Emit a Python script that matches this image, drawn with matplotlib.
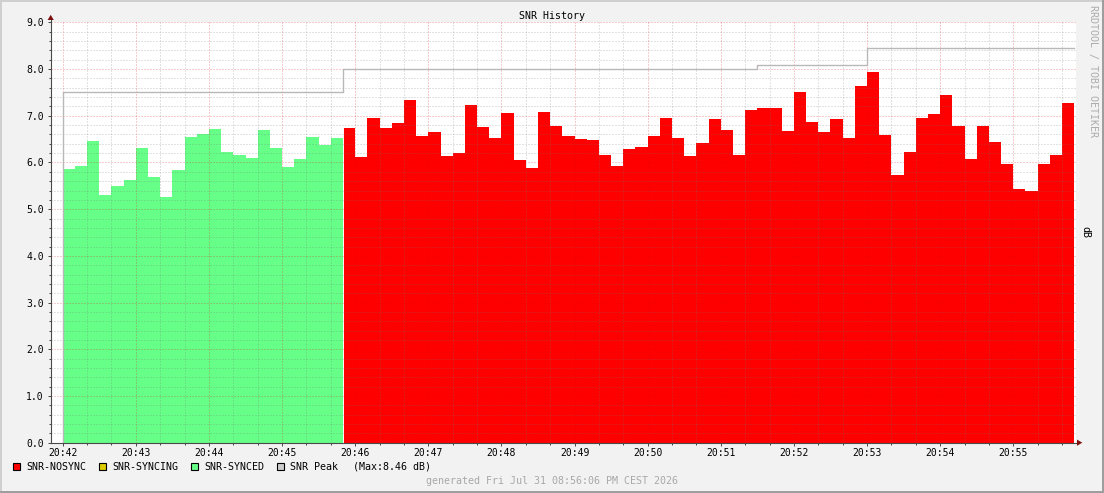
import matplotlib
matplotlib.use("Agg")
import matplotlib.pyplot as plt
from matplotlib.patches import Rectangle, Polygon
from matplotlib.lines import Line2D
from matplotlib.ticker import MultipleLocator, FixedLocator, FixedFormatter
import numpy as np

# ---------------- data ----------------
chart_title = "SNR History"
y_unit = "dB"
side_text = "RRDTOOL / TOBI OETIKER"
footer_text = "generated Fri Jul 31 08:56:06 PM CEST 2026"
sample_seconds = 10

snr_synced = [5.86, 5.93, 6.46, 5.30, 5.50, 5.63, 6.31, 5.69, 5.26, 5.84,
              6.55, 6.61, 6.72, 6.23, 6.16, 6.10, 6.70, 6.31, 5.90, 6.07,
              6.55, 6.37, 6.52]
snr_nosync = [6.74, 6.12, 6.95, 6.74, 6.85, 7.34, 6.57, 6.65, 6.14, 6.20,
              7.23, 6.76, 6.52, 7.06, 6.05, 5.88, 7.08, 6.78, 6.57, 6.50,
              6.48, 6.16, 5.93, 6.29, 6.33, 6.57, 6.95, 6.52, 6.14, 6.42,
              6.93, 6.70, 6.16, 7.12, 7.17, 7.17, 6.67, 7.51, 6.87, 6.65,
              6.93, 6.52, 7.64, 7.94, 6.59, 5.73, 6.22, 6.95, 7.04, 7.44,
              6.78, 6.07, 6.78, 6.44, 5.97, 5.43, 5.39, 5.97, 6.16, 7.27]

peak_start_s = [0, 230, 570, 660]
peak_db = [7.50, 8.00, 8.08, 8.46]

x_tick_labels = ["20:42", "20:43", "20:44", "20:45", "20:46", "20:47", "20:48",
                 "20:49", "20:50", "20:51", "20:52", "20:53", "20:54", "20:55"]
y_tick_labels = ["0.0", "1.0", "2.0", "3.0", "4.0", "5.0", "6.0", "7.0", "8.0", "9.0"]

legend_labels = ["SNR-NOSYNC", "SNR-SYNCING", "SNR-SYNCED", "SNR Peak"]
legend_colors = ["#FF0000", "#DDCC00", "#66FF88", "#CCCCCC"]
peak_max_text = "(Max:8.46 dB)"

# ---------------- figure ----------------
W, H, DPI = 1104, 493, 100
FONT = "DejaVu Sans Mono"
plt.rcParams["font.family"] = [FONT, "DejaVu Sans"]

fig = plt.figure(figsize=(W / DPI, H / DPI), dpi=DPI)
fig.patch.set_facecolor("#F2F2F2")


def fpt(x, y):
    return (x / W, 1 - y / H)


def frect(x0, y0, x1, y1, color, z=0):
    fig.add_artist(Rectangle((x0 / W, 1 - y1 / H), (x1 - x0) / W, (y1 - y0) / H,
                             transform=fig.transFigure, facecolor=color,
                             edgecolor="none", zorder=z))


# 3D-ish frame
frect(0, 0, W, 2, "#CFCFCF")
frect(0, 0, 2, H, "#CFCFCF")
frect(0, H - 2.5, W, H, "#9E9E9E")
frect(W - 2, 0, W, H, "#9E9E9E")

# plot area in pixels
L, R, T, B = 51, 1076, 22.4, 442.7
x0_px, px_per_s = 62.7, (1013.3 - 62.7) / 780.0
ax = fig.add_axes([L / W, 1 - B / H, (R - L) / W, (B - T) / H])
ax.set_facecolor("white")
ax.set_xlim((L - x0_px) / px_per_s, (R - x0_px) / px_per_s)
ax.set_ylim(0, 9)
for s in ax.spines.values():
    s.set_visible(False)

values = snr_synced + snr_nosync
n_sync = len(snr_synced)
t_all = np.arange(len(values)) * sample_seconds
t_end = len(values) * sample_seconds

ax.bar(t_all[:n_sync], snr_synced, width=sample_seconds, align="edge",
       color="#66FF88", linewidth=0, zorder=1)
ax.bar(t_all[n_sync:], snr_nosync, width=sample_seconds, align="edge",
       color="#FF0000", linewidth=0, zorder=1)
ax.axvline(t_all[n_sync], color="white", lw=0.7, zorder=1.2)

# peak line
px_ = [peak_start_s[0]] + peak_start_s + [t_end]
py_ = [0] + peak_db + [peak_db[-1]]
ax.step(px_, py_, where="post", color="#B8B8B8", lw=1.0, zorder=3)

# grid & ticks
ax.xaxis.set_major_locator(FixedLocator(np.arange(len(x_tick_labels)) * 60))
ax.xaxis.set_major_formatter(FixedFormatter(x_tick_labels))
ax.xaxis.set_minor_locator(MultipleLocator(20))
ax.yaxis.set_major_locator(FixedLocator(np.arange(len(y_tick_labels)) * 1.0))
ax.yaxis.set_major_formatter(FixedFormatter(y_tick_labels))
ax.yaxis.set_minor_locator(MultipleLocator(0.2))
ax.set_axisbelow(False)
ax.grid(which="minor", color="#777777", alpha=0.42, linestyle=(0, (1, 2)),
        lw=0.72, snap=True)
ax.grid(which="major", color="#E00000", alpha=0.40, linestyle=(0, (1, 2)),
        lw=0.72, snap=True)

axis_color = "#4A4A4A"
ax.tick_params(axis="both", which="both", direction="out", color=axis_color,
               width=0.72, labelsize=7.0, labelcolor="black")
ax.tick_params(axis="y", which="major", length=2.2, pad=3.0)
ax.tick_params(axis="y", which="minor", length=1.5)
ax.tick_params(axis="x", which="major", length=2.2, pad=1.7)
ax.tick_params(axis="x", which="minor", length=1.5)
for lab in ax.get_xticklabels() + ax.get_yticklabels():
    lab.set_fontfamily(FONT)

# axis lines + arrows (pixel geometry)
fig.add_artist(Line2D([50.7 / W, 50.7 / W], [1 - B / H, 1 - 19 / H],
                      transform=fig.transFigure, color=axis_color, lw=0.8, zorder=5))
fig.add_artist(Line2D([50.7 / W, 1078 / W], [1 - B / H, 1 - B / H],
                      transform=fig.transFigure, color=axis_color, lw=0.8, zorder=5))
arrow_c = "#7F1010"
fig.add_artist(Polygon([fpt(50.7, 14.8), fpt(47.6, 20), fpt(53.8, 20)], closed=True,
                       transform=fig.transFigure, facecolor=arrow_c, edgecolor="none", zorder=6))
fig.add_artist(Polygon([fpt(1082.3, B), fpt(1077, B - 3.1), fpt(1077, B + 3.1)], closed=True,
                       transform=fig.transFigure, facecolor=arrow_c, edgecolor="none", zorder=6))

# texts
fs = 7.2
fig.text(*fpt(552, 16), chart_title, ha="center", va="center", fontsize=fs,
         family=FONT, color="black")
fig.text(*fpt(1093, 5), side_text, ha="center", va="top", rotation=270,
         fontsize=fs, family=FONT, color="#ABABAB")
fig.text(*fpt(1085.5, 232), y_unit, ha="center", va="center", rotation=270,
         fontsize=fs, family=FONT, color="black")
fig.text(*fpt(552, 481), footer_text, ha="center", va="center", fontsize=fs,
         family=FONT, color="#A8A8A8")

# legend
sq_x = [13, 99, 191, 277]
tx_x = [26, 112, 204.5, 290]
ly = 466.5
for sx, tx, lab, col in zip(sq_x, tx_x, legend_labels, legend_colors):
    fig.add_artist(Rectangle((sx / W, 1 - (ly + 3.8) / H), 7.2 / W, 7.6 / H,
                             transform=fig.transFigure, facecolor=col,
                             edgecolor="black", lw=0.8, zorder=5))
    fig.text(*fpt(tx, ly), lab, ha="left", va="center", fontsize=fs,
             family=FONT, color="black")
fig.text(*fpt(352.7, ly), peak_max_text, ha="left", va="center", fontsize=fs,
         family=FONT, color="black")

fig.savefig("out.png", dpi=DPI, facecolor=fig.get_facecolor())
